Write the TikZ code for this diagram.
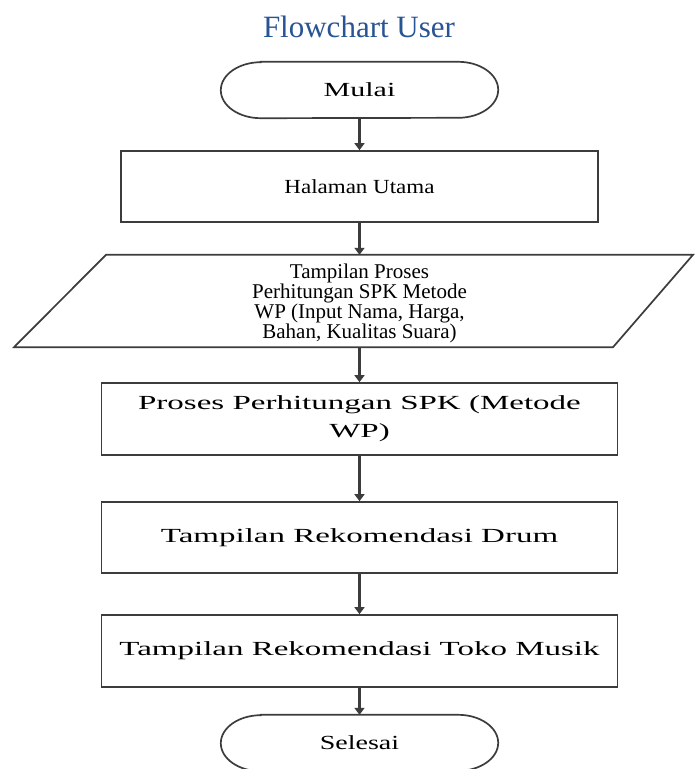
\documentclass[tikz,border=0pt]{standalone}
\usepackage{fontspec}
\setmainfont{Liberation Serif}
\usepackage{graphicx}
\usetikzlibrary{arrows.meta,calc}
\definecolor{titleblue}{RGB}{41,84,148}
\definecolor{edgegray}{RGB}{60,60,60}
\definecolor{arrowgray}{RGB}{60,60,60}
\newcommand\sx[2]{\scalebox{#1}[1]{#2}}
\begin{document}
\begin{tikzpicture}[x=1pt,y=1pt,
  box/.style={draw=edgegray, line width=1.7pt, minimum width=516pt, minimum height=72pt,
    inner sep=0pt, align=center, font=\fontsize{20}{28}\selectfont},
  plain/.style={draw=none, inner sep=0pt, align=center, font=\fontsize{20}{20}\selectfont},
  shapeline/.style={draw=edgegray, line width=1.7pt},
  flow/.style={draw=arrowgray, line width=2.4pt, -{Triangle[width=10pt,length=7pt]}}
]
\useasboundingbox (0,0) rectangle (695,-769);
\fill[white] (0,0) rectangle (695,-769);

\node[font=\fontsize{31}{36}\selectfont, text=titleblue] (title) at (359,-27) {Flowchart User};

% Mulai terminal
\node[plain, minimum width=277pt, minimum height=56pt] (mulai) at (359.5,-90) {\sx{1.5}{Mulai}};
\draw[shapeline] ($(mulai.north west)+(40,0)$) -- ($(mulai.north east)+(-40,0)$)
  arc[start angle=90,end angle=-90,x radius=40pt,y radius=28pt]
  -- ($(mulai.south west)+(40,0)$)
  arc[start angle=270,end angle=90,x radius=40pt,y radius=28pt] -- cycle;

\node[box, minimum width=477pt, minimum height=71pt] (halaman) at (359.5,-186.5) {\sx{1.15}{Halaman Utama}};

% Parallelogram (input/output)
\node[plain, minimum width=500pt, minimum height=92pt] (para) at (359.5,-301) {};
\node[plain, font=\fontsize{21}{20}\selectfont] (paratext) at (359.5,-303)
  {Tampilan Proses\\Perhitungan SPK Metode\\WP (Input Nama, Harga,\\Bahan, Kualitas Suara)};
\draw[shapeline] ($(para.north)+(-253.5,0)$) -- ($(para.north)+(333.5,0)$)
  -- ($(para.south)+(253.5,0)$) -- ($(para.south)+(-345.5,0)$) -- cycle;

\node[box] (proses) at (359.5,-419) {\sx{1.65}{Proses Perhitungan SPK (Metode}\\\sx{1.65}{WP)}};
\node[box, minimum height=71pt] (drum) at (359.5,-537.5) {\sx{1.65}{Tampilan Rekomendasi Drum}};
\node[box] (toko) at (359.5,-651) {\sx{1.65}{Tampilan Rekomendasi Toko Musik}};

% Selesai terminal
\node[plain, minimum width=277pt, minimum height=56pt] (selesai) at (359.5,-743) {\sx{1.4}{Selesai}};
\draw[shapeline] ($(selesai.north west)+(40,0)$) -- ($(selesai.north east)+(-40,0)$)
  arc[start angle=90,end angle=-90,x radius=40pt,y radius=28pt]
  -- ($(selesai.south west)+(40,0)$)
  arc[start angle=270,end angle=90,x radius=40pt,y radius=28pt] -- cycle;

\draw[flow] (mulai.south) -- (halaman.north);
\draw[flow] (halaman.south) -- (para.north);
\draw[flow] (para.south) -- (proses.north);
\draw[flow] (proses.south) -- (drum.north);
\draw[flow] (drum.south) -- (toko.north);
\draw[flow] (toko.south) -- (selesai.north);
\end{tikzpicture}
\end{document}
